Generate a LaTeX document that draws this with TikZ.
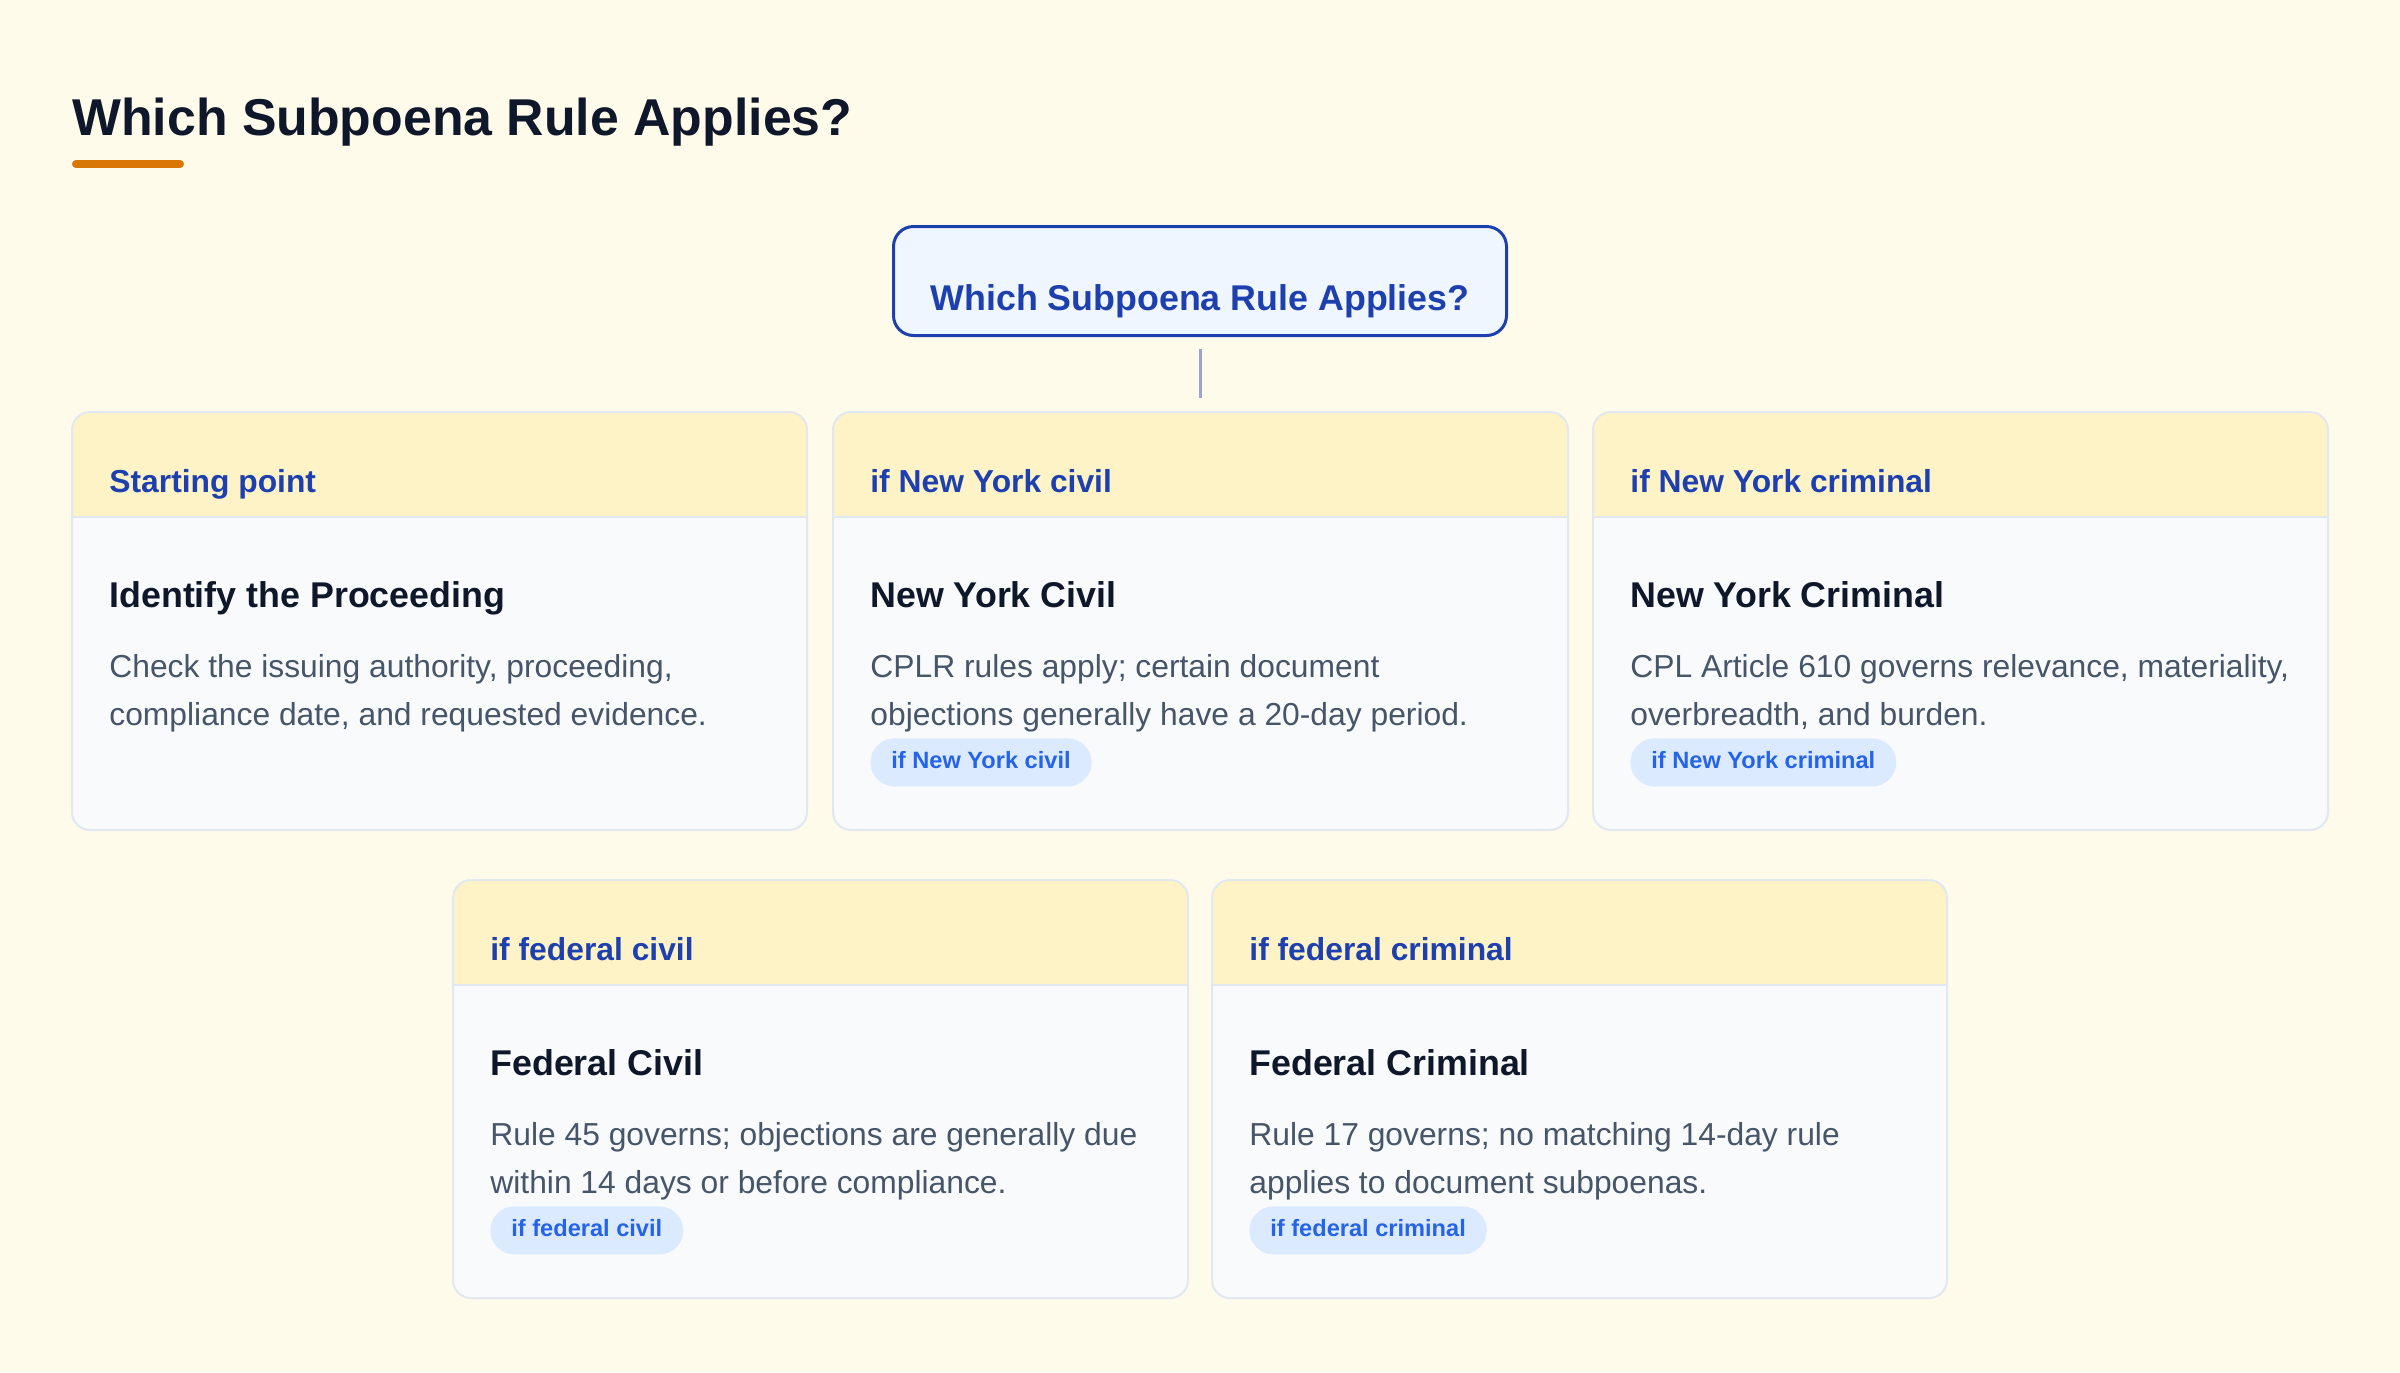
\documentclass[tikz,border=0pt]{standalone}
\usepackage{fontspec}
\setmainfont{Liberation Sans}

\definecolor{pagebg}{HTML}{FEFBEA}
\definecolor{ink}{HTML}{0F172A}
\definecolor{bodygray}{HTML}{475569}
\definecolor{headblue}{HTML}{1E40AF}
\definecolor{pillblue}{HTML}{2563EB}
\definecolor{pillfill}{HTML}{DBEAFE}
\definecolor{bandfill}{HTML}{FEF3C7}
\definecolor{cardfill}{HTML}{F8FAFC}
\definecolor{cardedge}{HTML}{E2E8F0}
\definecolor{rootfill}{HTML}{EFF6FF}
\definecolor{stemgray}{HTML}{98A6CF}
\definecolor{accent}{HTML}{D97706}

% card: name, x, y (top), header, title, line 1, line 2
\newcommand{\subcard}[7]{%
  \node[card, anchor=north west] (#1) at (#2,#3) {};
  \fill[bandfill] (#2,#3+105) [rounded corners=9pt] -- (#2,#3) -- (#2+735,#3) [sharp corners] -- (#2+735,#3+105) -- cycle;
  \draw[cardedge, line width=1pt] (#2,#3+105) -- (#2+735,#3+105);
  \draw[cardedge, line width=1pt, rounded corners=9pt] (#1.north west) rectangle (#1.south east);
  \node[hdtext] (#1-hd) at (#2+37,#3+80) {#4};
  \node[titletext] (#1-ti) at (#2+37,#3+195) {#5};
  \node[bodytext] (#1-l1) at (#2+37,#3+265) {#6};
  \node[bodytext] (#1-l2) at (#2+37,#3+313) {#7};
}

\begin{document}
\begin{tikzpicture}[x=0.5pt, y=-0.5pt,
        card/.style={rectangle, rounded corners=9pt, fill=cardfill, minimum width=367.5pt,
            minimum height=209pt, inner sep=0pt, outer sep=0pt},
        hdtext/.style={anchor=base west, inner sep=0pt, text=headblue,
            font=\fontsize{15.9}{19}\selectfont\bfseries},
        titletext/.style={anchor=base west, inner sep=0pt, text=ink,
            font=\fontsize{17.9}{21}\selectfont\bfseries},
        bodytext/.style={anchor=base west, inner sep=0pt, text=bodygray,
            font=\fontsize{15.9}{19}\selectfont},
        pill/.style={anchor=north west, fill=pillfill, text=pillblue, rounded corners=12pt,
            minimum height=24pt, inner xsep=10.5pt, inner ysep=0pt,
            text height=8.6pt, text depth=2.6pt,
            font=\fontsize{11.8}{14}\selectfont\bfseries},
        rootbox/.style={draw=headblue, line width=1.5pt, fill=rootfill, rounded corners=10pt,
            minimum width=306.5pt, minimum height=54.5pt, text=headblue,
            text height=29pt, text depth=0pt, font=\fontsize{17.9}{21}\selectfont\bfseries}]
\useasboundingbox (0,0) rectangle (2400,1372);
\fill[pagebg] (0,0) rectangle (2400,1372);

\node[anchor=base west, inner sep=0pt, text=ink, font=\fontsize{25.9}{31}\selectfont\bfseries]
    (title) at (72,135) {Which Subpoena Rule Applies?};
\draw[accent, line width=4pt, line cap=round] (76,164) -- (180,164);

\node[rootbox] (root) at (1200,281) {Which Subpoena Rule Applies?};
\coordinate (stem) at (1200,398);
\draw[stemgray, line width=1.5pt, shorten <=6pt] (root.south) -- (stem);

\subcard{start}{72}{412}{Starting point}{Identify the Proceeding}
    {Check the issuing authority, proceeding,}{compliance date, and requested evidence.}
\subcard{nyciv}{833}{412}{if New York civil}{New York Civil}
    {CPLR rules apply; certain document}{objections generally have a 20-day period.}
\subcard{nycrim}{1593}{412}{if New York criminal}{New York Criminal}
    {CPL Article 610 governs relevance, materiality,}{overbreadth, and burden.}
\subcard{fedciv}{453}{880}{if federal civil}{Federal Civil}
    {Rule 45 governs; objections are generally due}{within 14 days or before compliance.}
\subcard{fedcrim}{1212}{880}{if federal criminal}{Federal Criminal}
    {Rule 17 governs; no matching 14-day rule}{applies to document subpoenas.}

\node[pill] (nyciv-tag) at (870,738) {if New York civil};
\node[pill] (nycrim-tag) at (1630,738) {if New York criminal};
\node[pill] (fedciv-tag) at (490,1206) {if federal civil};
\node[pill] (fedcrim-tag) at (1249,1206) {if federal criminal};
\end{tikzpicture}
\end{document}
